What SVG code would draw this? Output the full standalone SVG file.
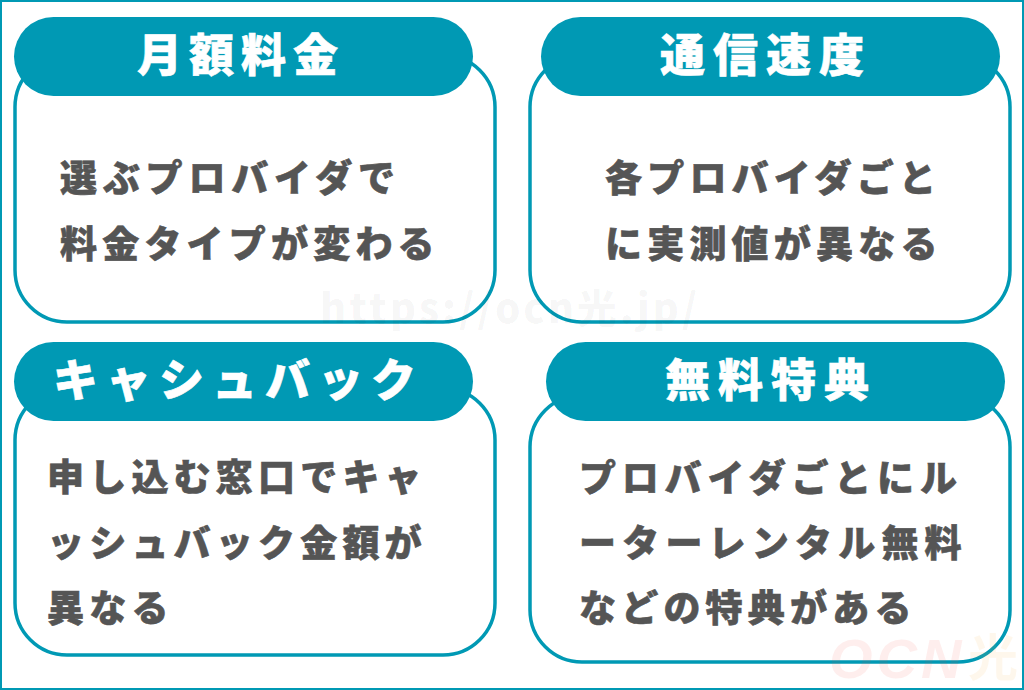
<svg xmlns="http://www.w3.org/2000/svg" width="1024" height="690" viewBox="0 0 1024 690">
<style>
.box{fill:#fff;stroke:#0099b4;stroke-width:3.5}
.head{fill:#0099b4}
.t{font-family:"Noto Sans CJK JP","Noto Sans",sans-serif;font-weight:900}
.title{font-size:45px;fill:#fff;stroke:#fff;stroke-width:.6;letter-spacing:8px}
.body{font-size:37px;fill:#555;stroke:#555;stroke-width:.6;letter-spacing:5.2px}
</style>
<rect x="0" y="0" width="1024" height="690" fill="#fff"/>
<rect x="1" y="1" width="1022" height="688" fill="none" stroke="#0099b4" stroke-width="2"/>
<g id="node-fee">
<rect class="box" x="15" y="55" width="480" height="267" rx="52"/>
<rect class="head" x="14" y="17" width="459" height="79" rx="39.5"/>
<text class="t title" x="137" y="72" style="letter-spacing:7px">月額料金</text>
<text class="t body" x="60" y="192" style="letter-spacing:5.8px">選ぶプロバイダで</text>
<text class="t body" x="60" y="258">料金タイプが変わる</text>
</g>
<g id="node-speed">
<rect class="box" x="530" y="55" width="480" height="267" rx="52"/>
<rect class="head" x="541" y="17" width="459" height="79" rx="39.5"/>
<text class="t title" x="660" y="72">通信速度</text>
<text class="t body" x="605" y="192">各プロバイダごと</text>
<text class="t body" x="605" y="258">に実測値が異なる</text>
</g>
<g id="node-cashback">
<rect class="box" x="15" y="388" width="480" height="267" rx="52"/>
<rect class="head" x="14" y="342" width="459" height="79" rx="39.5"/>
<text class="t title" x="53" y="397">キャシュバック</text>
<text class="t body" x="47" y="491">申し込む窓口でキャ</text>
<text class="t body" x="47" y="557">ッシュバック金額が</text>
<text class="t body" x="47" y="622">異なる</text>
</g>
<g id="node-bonus">
<rect class="box" x="530" y="395" width="480" height="267" rx="52"/>
<rect class="head" x="546" y="342" width="459" height="79" rx="39.5"/>
<text class="t title" x="665" y="397">無料特典</text>
<text class="t body" x="579" y="492" style="letter-spacing:5.8px">プロバイダごとにル</text>
<text class="t body" x="579" y="557" style="letter-spacing:6.2px">ーターレンタル無料</text>
<text class="t body" x="579" y="622">などの特典がある</text>
</g>
<g id="watermarks">
<text class="t" x="320" y="323" font-size="40" fill="#000" fill-opacity="0.04" font-weight="700" letter-spacing="2.9">https://ocn光.jp/</text>
<text x="829" y="678" font-family="'Liberation Sans','Noto Sans CJK JP',sans-serif" font-size="56" font-weight="700" font-style="italic" fill="#f8403a" fill-opacity="0.09" letter-spacing="4">OCN</text>
<text x="968" y="676" font-family="'Noto Sans CJK JP',sans-serif" font-size="50" font-weight="700" fill="#f5b040" fill-opacity="0.1">光</text>
</g>
</svg>
